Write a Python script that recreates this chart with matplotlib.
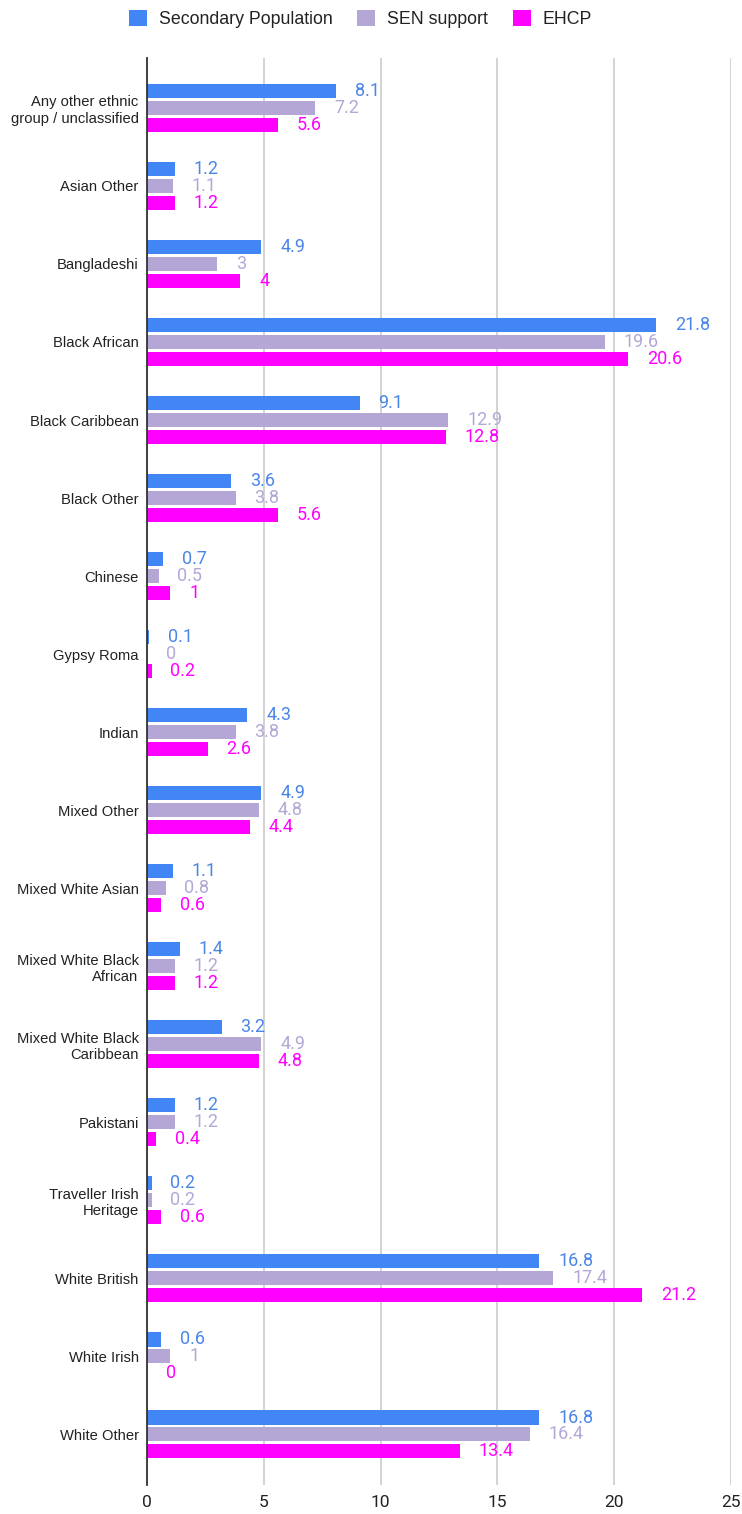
import numpy as np
import matplotlib.pyplot as plt
from matplotlib.patches import Patch
from matplotlib.transforms import offset_copy

categories = ["Any other ethnic\ngroup / unclassified", "Asian Other", "Bangladeshi",
              "Black African", "Black Caribbean", "Black Other", "Chinese", "Gypsy Roma",
              "Indian", "Mixed Other", "Mixed White Asian", "Mixed White Black\nAfrican",
              "Mixed White Black\nCaribbean", "Pakistani", "Traveller Irish\nHeritage",
              "White British", "White Irish", "White Other"]
secondary = [8.1, 1.2, 4.9, 21.8, 9.1, 3.6, 0.7, 0.1, 4.3, 4.9, 1.1, 1.4, 3.2, 1.2, 0.2, 16.8, 0.6, 16.8]
sen_support = [7.2, 1.1, 3, 19.6, 12.9, 3.8, 0.5, 0, 3.8, 4.8, 0.8, 1.2, 4.9, 1.2, 0.2, 17.4, 1, 16.4]
ehcp = [5.6, 1.2, 4, 20.6, 12.8, 5.6, 1, 0.2, 2.6, 4.4, 0.6, 1.2, 4.8, 0.4, 0.6, 21.2, 0, 13.4]

series = [("Secondary Population", secondary, "#4285f4", "#4a86e8"),
          ("SEN support", sen_support, "#b4a7d6", "#b4a7d6"),
          ("EHCP", ehcp, "#ff00ff", "#ff00ff")]

fig = plt.figure(figsize=(7.42, 15.14), dpi=100)
ax = fig.add_axes([147 / 742, 1 - 1485 / 1514, (731 - 147) / 742, (1485 - 58) / 1514])

y = np.arange(len(categories))
bar_h = 0.18
step = 0.215

for j, (name, vals, col, tcol) in enumerate(series):
    pos = y + (j - 1) * step
    ax.barh(pos, vals, height=bar_h, color=col, zorder=3)
    tr = offset_copy(ax.transData, fig=fig, x=13.5, y=0, units='points')
    for p, v in zip(pos, vals):
        ax.text(v, p, "%g" % v, transform=tr, color=tcol, fontsize=13,
                family="Roboto", va="center", ha="left", zorder=4)

ax.set_xlim(0, 25)
ax.set_ylim(17.65, -0.64)
ax.set_xticks([0, 5, 10, 15, 20, 25])
ax.set_yticks(y)
ax.set_yticklabels(categories, family="Liberation Sans", fontsize=10.6, color="#222222",
                   linespacing=1.25)
for lab in ax.get_xticklabels():
    lab.set_family("Roboto")
    lab.set_fontsize(12.5)
    lab.set_color("#222222")
ax.tick_params(axis="both", length=0)
ax.tick_params(axis="y", pad=6)
ax.tick_params(axis="x", pad=7)
ax.grid(axis="x", color="#cccccc", linewidth=1.2, zorder=0)
for s in ["top", "right", "bottom"]:
    ax.spines[s].set_visible(False)
ax.spines["left"].set_color("#333333")
ax.spines["left"].set_linewidth(1.3)
ax.spines["left"].set_zorder(5)

handles = [Patch(facecolor=c, label=n) for n, v, c, t in series]
leg = fig.legend(handles=handles, loc="upper center", bbox_to_anchor=(0.486, 1.004),
                 ncol=3, frameon=False, handlelength=1.0, handleheight=1.0,
                 columnspacing=1.4, handletextpad=0.68,
                 prop={"family": "Liberation Sans", "size": 12.8})
for t in leg.get_texts():
    t.set_color("#222222")

fig.savefig("out.png", dpi=100)
